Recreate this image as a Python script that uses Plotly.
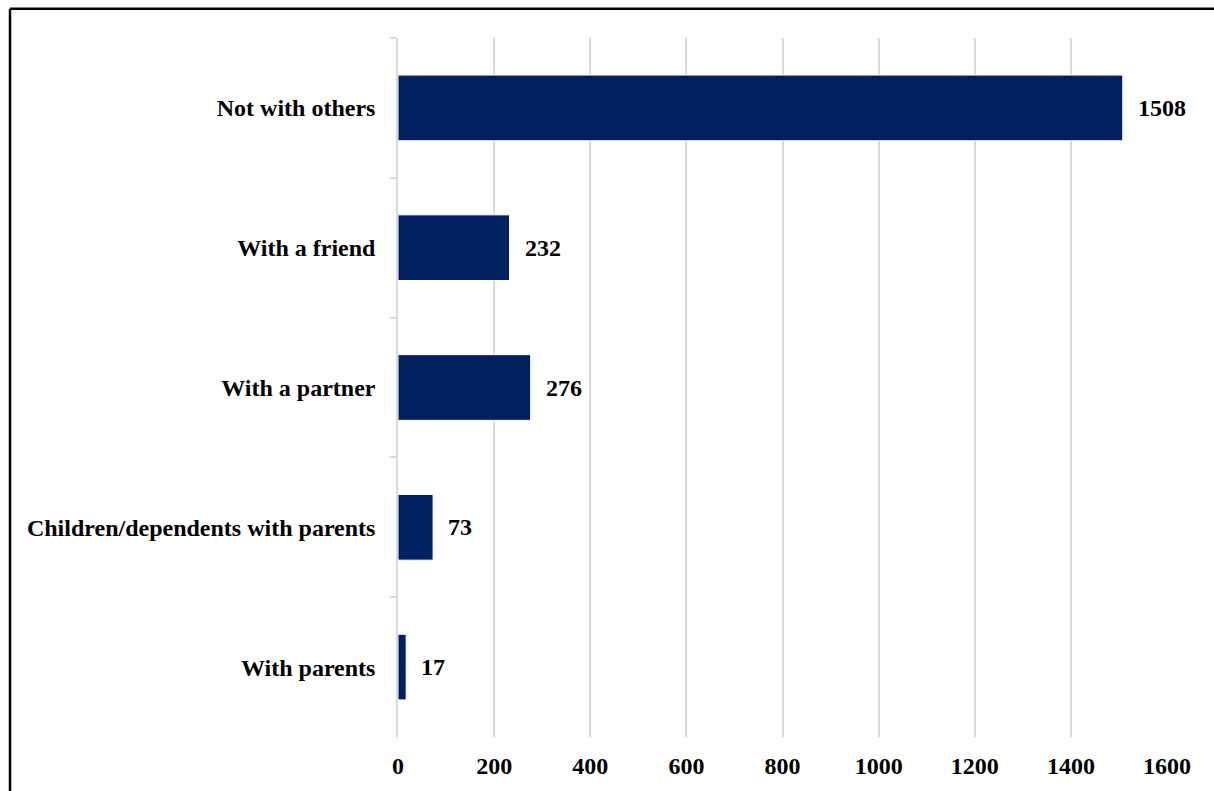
import plotly.graph_objects as go

# Living arrangement categories, listed top to bottom
categories = [
    "Not with others",
    "With a friend",
    "With a partner",
    "Children/dependents with parents",
    "With parents",
]
counts = [1508, 232, 276, 73, 17]
x_ticks = [0, 200, 400, 600, 800, 1000, 1200, 1400, 1600]

NAVY = "#002060"
GRID = "#d9d9d9"
FONT = "Liberation Serif, Times New Roman, serif"
FS = 24

W, H = 1214, 791
L, R, T, B = 398, 47, 38, 50

fig = go.Figure(
    go.Bar(
        x=counts,
        y=categories,
        orientation="h",
        width=0.47,
        marker=dict(color=NAVY, line=dict(color="white", width=1)),
        hoverinfo="x+y",
    )
)

# value labels to the right of each bar
for cat, val in zip(categories, counts):
    fig.add_annotation(
        x=val, y=cat, text=str(val), showarrow=False,
        xanchor="left", xshift=13,
        font=dict(family=FONT, size=FS, color="black", weight="bold"),
    )

# outer frame (left and top edges)
pw, ph = W - L - R, H - T - B
def px_x(p):
    return (p - L) / pw
def px_y(p):
    return (H - B - p) / ph

fig.add_shape(type="line", xref="paper", yref="paper",
              x0=px_x(10), x1=px_x(10), y0=px_y(8.5), y1=px_y(H + 5),
              line=dict(color="black", width=2.5))
fig.add_shape(type="line", xref="paper", yref="paper",
              x0=px_x(10), x1=px_x(W + 5), y0=px_y(8.5), y1=px_y(8.5),
              line=dict(color="black", width=2.5))

fig.update_layout(
    width=W, height=H,
    margin=dict(l=L, r=R, t=T, b=B),
    paper_bgcolor="white", plot_bgcolor="white",
    showlegend=False,
    font=dict(family=FONT, size=FS, color="black"),
    xaxis=dict(
        range=[0, 1600],
        tickvals=x_ticks,
        ticktext=[str(v) for v in x_ticks],
        showgrid=True, gridcolor=GRID, gridwidth=1.5,
        zeroline=False, showline=False,
        ticks="", ticklabelstandoff=12,
        tickfont=dict(family=FONT, size=FS, color="black", weight="bold"),
    ),
    yaxis=dict(
        categoryorder="array", categoryarray=categories,
        autorange="reversed",
        showline=True, linecolor=GRID, linewidth=1.5,
        ticks="outside", tickson="boundaries", ticklen=6,
        tickcolor=GRID, tickwidth=1.5,
        ticklabelstandoff=16,
        showgrid=False,
        tickfont=dict(family=FONT, size=FS, color="black", weight="bold"),
    ),
)

fig.write_html("out.html")
